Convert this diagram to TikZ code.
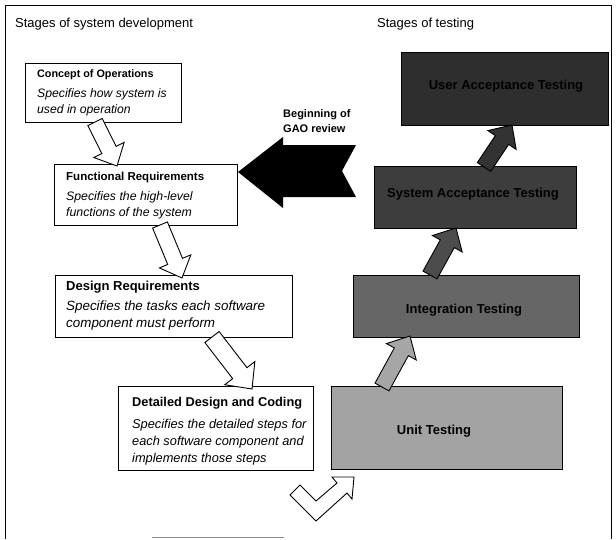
\documentclass[tikz,border=0pt]{standalone}
\usepackage{fontspec}
\setmainfont{Liberation Sans}
\usetikzlibrary{calc}
\newcommand\blockarr[6]{%
  \coordinate (BAh) at ($(#3)!#6!(#2)$);
  \draw[#1] ($(#2)!#4!90:(#3)$) -- ($(BAh)!#4!90:(#3)$) -- ($(BAh)!#5!90:(#3)$) -- (#3)
    -- ($(BAh)!#5!-90:(#3)$) -- ($(BAh)!#4!-90:(#3)$) -- ($(#2)!#4!-90:(#3)$) -- cycle;}
\newcommand\fsz[1]{\fontsize{#1}{#1}\selectfont}
\begin{document}
\begin{tikzpicture}[x=1pt,y=-1pt,
  devbox/.style={draw=black, line width=0.9pt, fill=white, anchor=north west, inner sep=0pt},
  testbox/.style={draw=black, line width=1.2pt, anchor=north west, inner sep=0pt},
  ttl/.style={anchor=base west, inner sep=0pt, font=\bfseries},
  desc/.style={anchor=base west, inner sep=0pt, font=\itshape},
  testtxt/.style={anchor=base, inner sep=0pt, font=\bfseries\fsz{13}, text=black},
  heading/.style={anchor=base west, inner sep=0pt, font=\fsz{13}},
  hollow/.style={draw=black, line width=0.9pt, fill=white, line join=miter},
  grayarr/.style={draw=black, line width=0.9pt, line join=miter}
]
\useasboundingbox (0,0) rectangle (616,539);
% frame
\draw[line width=0.8pt] (5,539) -- (5,5) -- (611,5) -- (611,539);
\draw[black!45, line width=0.8pt] (152,537) -- (284,537);
% headings
\node[heading] (devtitle) at (15,27) {Stages of system development};
\node[heading] (testtitle) at (377,27) {Stages of testing};
% development boxes
\node[devbox, minimum width=156pt, minimum height=59pt] (concept) at (25,63) {};
\node[ttl, font=\bfseries\fsz{10.8}] (conceptT) at (37,77) {Concept of Operations};
\node[desc, font=\itshape\fsz{12.2}] (conceptD1) at (37,97.5) {Specifies how system is};
\node[desc, font=\itshape\fsz{12.2}] (conceptD2) at (37,113.5) {used in operation};

\node[devbox, minimum width=183pt, minimum height=61pt] (func) at (54,164) {};
\node[ttl, font=\bfseries\fsz{11.5}] (funcT) at (66,180.5) {Functional Requirements};
\node[desc, font=\itshape\fsz{12.3}] (funcD1) at (66,200.5) {Specifies the high-level};
\node[desc, font=\itshape\fsz{12.3}] (funcD2) at (66,216.5) {functions of the system};

\node[devbox, minimum width=237pt, minimum height=62pt] (design) at (55,275) {};
\node[ttl, font=\bfseries\fsz{13}] (designT) at (66,290) {Design Requirements};
\node[desc, font=\itshape\fsz{13.4}] (designD1) at (66,310) {Specifies the tasks each software};
\node[desc, font=\itshape\fsz{13.4}] (designD2) at (66,327) {component must perform};

\node[devbox, minimum width=195pt, minimum height=84pt] (detail) at (118,386) {};
\node[ttl, font=\bfseries\fsz{12.8}] (detailT) at (132,406.5) {Detailed Design and Coding};
\node[desc, font=\itshape\fsz{12.8}] (detailD1) at (132,428) {Specifies the detailed steps for};
\node[desc, font=\itshape\fsz{12.8}] (detailD2) at (132,445) {each software component and};
\node[desc, font=\itshape\fsz{12.8}] (detailD3) at (132,462) {implements those steps};

% testing boxes
\node[testbox, fill=black!82, minimum width=207pt, minimum height=73pt] (uat) at (401,52) {};
\node[testtxt] (uatT) at (506,89) {User Acceptance Testing};
\node[testbox, fill=black!76, minimum width=202pt, minimum height=62pt] (sat) at (374,166) {};
\node[testtxt] (satT) at (473,197) {System Acceptance Testing};
\node[testbox, fill=black!60, minimum width=226pt, minimum height=62pt] (int) at (353,275) {};
\node[testtxt] (intT) at (464,313.5) {Integration Testing};
\node[testbox, fill=black!36, minimum width=231pt, minimum height=83pt] (unit) at (331,386) {};
\node[testtxt] (unitT) at (434,434.5) {Unit Testing};

% hollow development arrows
\coordinate (a1s) at (95,122);  \coordinate (a1e) at (117,166);
\coordinate (a2s) at (160,225); \coordinate (a2e) at (182,278);
\coordinate (a3s) at (212,337); \coordinate (a3e) at (252,389);
\blockarr{hollow}{a1s}{a1e}{8pt}{17pt}{18pt}
\blockarr{hollow}{a2s}{a2e}{8pt}{17pt}{18pt}
\blockarr{hollow}{a3s}{a3e}{9pt}{19pt}{20pt}

% bottom bent arrow
\draw[hollow] (300,485) -- (316,501) -- (337,483) -- (332,477) -- (354,477)
  -- (352,499) -- (347,493) -- (316,521) -- (290,495) -- cycle;

% testing arrows
\coordinate (g1s) at (382,387); \coordinate (g1e) at (410,336);
\coordinate (g2s) at (430,275); \coordinate (g2e) at (456,228);
\coordinate (g3s) at (484,167); \coordinate (g3e) at (512,125);
\blockarr{grayarr, fill=black!35}{g1s}{g1e}{8pt}{17pt}{18pt}
\blockarr{grayarr, fill=black!70}{g2s}{g2e}{8pt}{17pt}{18pt}
\blockarr{grayarr, fill=black!80}{g3s}{g3e}{8pt}{17pt}{18pt}

% GAO review arrow
\node[anchor=base west, inner sep=0pt, font=\bfseries\fsz{11}] (gao1) at (283,117) {Beginning of};
\node[anchor=base west, inner sep=0pt, font=\bfseries\fsz{11}] (gao2) at (283,132) {GAO review};
\fill[black] (238,172) -- (283,137) -- (283,145) -- (356,145) -- (342,171)
  -- (356,197) -- (283,197) -- (283,208) -- cycle;
\end{tikzpicture}
\end{document}
